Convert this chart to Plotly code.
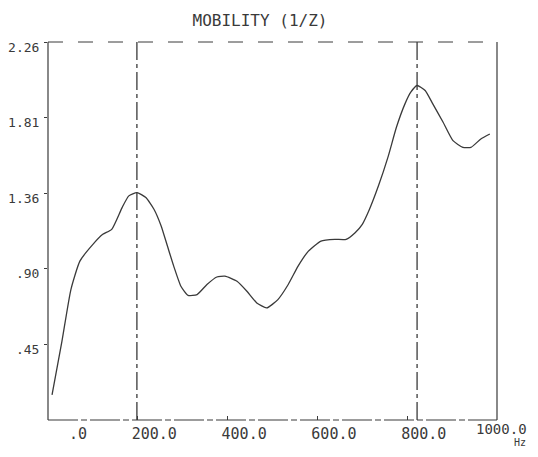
import plotly.graph_objects as go

# Frequency (Hz) and mobility values
freq_hz = [9, 31, 51, 71, 100, 122, 142, 165, 180, 198, 218, 236, 252, 266, 280,
           296, 312, 332, 354, 376, 394, 421, 443, 465, 487, 512, 535, 557, 580,
           608, 639, 664, 684, 700, 716, 736, 757, 776, 795, 808, 822, 840, 857,
           880, 902, 924, 942, 964, 984]
mobility = [0.15, 0.47, 0.78, 0.95, 1.05, 1.11, 1.14, 1.27, 1.34, 1.36, 1.33, 1.26,
            1.16, 1.04, 0.92, 0.80, 0.745, 0.75, 0.81, 0.855, 0.86, 0.83, 0.77, 0.70,
            0.67, 0.72, 0.81, 0.92, 1.01, 1.07, 1.08, 1.08, 1.12, 1.17, 1.26, 1.40,
            1.57, 1.75, 1.89, 1.96, 2.00, 1.97, 1.89, 1.78, 1.67, 1.63, 1.63, 1.68,
            1.71]

# Peak marker frequencies (dash-dot vertical lines)
marker_hz = [198, 822]

x_tick_vals = [0, 200, 400, 600, 800, 1000]
x_tick_text = [".0", "200.0", "400.0", "600.0", "800.0", "1000.0"]
y_tick_vals = [0.452, 0.904, 1.356, 1.808, 2.26]
y_tick_text = [".45", ".90", "1.36", "1.81", "2.26"]

INK = "#3a3a3a"
NB = "\u00a0"

# The page body has an 8px default margin; size the figure so it fits the window
OFF = 8
FIG_W, FIG_H = 538 - 2 * OFF, 457 - 2 * OFF
PLOT_L, PLOT_R, PLOT_T, PLOT_B = 48, 497, 42, 420  # window pixel positions
pw = PLOT_R - PLOT_L
ph = PLOT_B - PLOT_T

# pad tick labels to a fixed width so they right-align like the plotter output;
# the last label is placed separately so it stays inside the page
width = max(len(t) for t in x_tick_text)
x_tick_text_padded = [NB * (width - len(t)) + t for t in x_tick_text[:-1]] + [""]

fig = go.Figure()

for mx in marker_hz:
    fig.add_trace(go.Scatter(
        x=[mx, mx], y=[0, 2.26], mode="lines",
        line=dict(color=INK, width=1.3, dash="18px,4px,4px,4px"),
        hoverinfo="skip", showlegend=False))

fig.add_trace(go.Scatter(
    x=freq_hz, y=mobility, mode="lines",
    line=dict(color=INK, width=1.3, shape="spline", smoothing=0.5),
    showlegend=False))

# plot frame
fig.add_shape(type="line", xref="paper", yref="paper", x0=0, x1=1, y0=1, y1=1,
              line=dict(color=INK, width=1, dash="longdash"))
fig.add_shape(type="line", xref="paper", yref="paper", x0=0, x1=1, y0=0, y1=0,
              line=dict(color=INK, width=1.2, dash="30px,3px,6px,3px"))
fig.add_shape(type="line", xref="paper", yref="paper", x0=0, x1=0, y0=0, y1=1,
              line=dict(color=INK, width=1.2))
fig.add_shape(type="line", xref="paper", yref="paper", x0=1, x1=1, y0=0, y1=1,
              line=dict(color=INK, width=1.2))

fig.update_layout(
    width=FIG_W, height=FIG_H,
    margin=dict(l=PLOT_L - OFF, r=FIG_W + OFF - PLOT_R, t=PLOT_T - OFF,
                b=FIG_H + OFF - PLOT_B, autoexpand=False),
    paper_bgcolor="white", plot_bgcolor="white",
    title=dict(text="MOBILITY (1/Z)", x=(260 - OFF) / FIG_W, xanchor="center",
               y=1 - (20 - OFF) / FIG_H, yanchor="middle",
               font=dict(family="DejaVu Sans Mono", size=16, color=INK)),
    font=dict(family="DejaVu Sans Mono", color=INK),
    xaxis=dict(range=[0, 1000], tickmode="array", tickvals=x_tick_vals,
               ticktext=x_tick_text_padded, showgrid=False, zeroline=False,
               showline=False, ticks="inside", ticklen=4, tickcolor=INK,
               ticklabelshift=12, ticklabelstandoff=3, automargin=False,
               tickfont=dict(family="DejaVu Sans Mono", size=15, color=INK)),
    yaxis=dict(range=[0, 2.26], tickmode="array", tickvals=y_tick_vals,
               ticktext=y_tick_text, showgrid=False, zeroline=False,
               showline=False, ticks="outside", ticklen=3, tickcolor=INK,
               ticklabelshift=5, ticklabelstandoff=2, automargin=False,
               tickfont=dict(family="DejaVu Sans Mono", size=13, color=INK)),
    annotations=[
        dict(text=x_tick_text[-1], xref="paper", yref="paper",
             x=(FIG_W + OFF - 1 - PLOT_L) / pw, y=-(429 - PLOT_B) / ph,
             xanchor="right", yanchor="middle", showarrow=False,
             font=dict(family="DejaVu Sans Mono", size=14, color=INK)),
        dict(text="Hz", xref="paper", yref="paper",
             x=(520 - PLOT_L) / pw, y=-(442 - PLOT_B) / ph,
             xanchor="center", yanchor="middle", showarrow=False,
             font=dict(family="DejaVu Sans Mono", size=10, color=INK)),
    ],
)

fig.write_html("out.html")
